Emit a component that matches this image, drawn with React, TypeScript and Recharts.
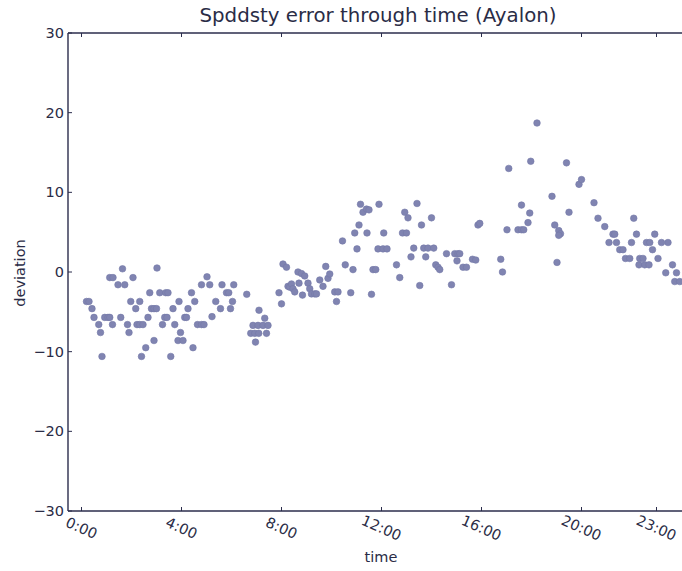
import React from "react";
import { ScatterChart, Scatter, XAxis, YAxis } from "recharts";

// hour of day for each sample
const hours = [
  0.2, 0.3, 0.42, 0.5, 0.69, 0.76, 0.82, 0.93, 1.06, 1.13, 1.13, 1.26, 1.24, 1.46, 1.57, 1.64, 1.73, 1.84, 1.9, 1.97,
  2.06, 2.17, 2.22, 2.33, 2.46, 2.33, 2.4, 2.57, 2.66, 2.73, 2.8, 2.9, 3.0, 2.9, 3.02, 3.13, 3.37, 3.24, 3.33, 3.42,
  3.46, 3.57, 3.66, 3.73, 3.9, 3.96, 3.86, 4.06, 4.13, 4.2, 4.26, 4.4, 4.46, 4.53, 4.64, 4.8, 4.9, 4.8, 5.02, 5.13,
  5.22, 5.37, 5.56, 5.62, 5.8, 5.89, 5.96, 6.04, 6.09, 6.61,
  6.77, 6.86, 6.93, 6.96, 7.06, 7.09, 7.1, 7.26, 7.33, 7.4, 7.46,
  7.9, 8.0, 8.06, 8.2, 8.26, 8.33, 8.4, 8.46, 8.53, 8.66, 8.7, 8.8, 8.84, 8.93, 9.06, 9.13, 9.2, 9.33, 9.4,
  9.53, 9.66, 9.77, 9.86, 9.93, 10.13, 10.26, 10.2, 10.44, 10.55, 10.77, 10.86, 10.93, 11.02, 11.1, 11.16, 11.26, 11.4, 11.5, 11.42,
  11.6, 11.66, 11.77, 11.9, 11.86, 12.06, 12.22, 12.09,
  12.6, 12.73, 12.84, 13.0, 12.93, 13.06, 13.18, 13.29, 13.42, 13.53, 13.6, 13.69, 13.86, 14.09, 13.77, 14.0, 14.17, 14.26, 14.33, 14.6,
  14.8, 14.93, 15.06, 15.13, 15.02, 15.26, 15.4, 15.64, 15.77, 15.86, 15.93,
  16.77, 16.84, 17.02, 17.09, 17.46, 17.6, 17.69, 17.6, 17.86, 17.93, 17.97, 18.22, 18.82, 18.93, 19.02, 19.09, 19.16, 19.09, 19.4, 19.5,
  19.9, 20.0,
  20.5, 20.66, 20.93, 21.1, 21.26, 21.33, 21.4, 21.53, 21.66, 21.76, 21.93, 22.0, 22.09, 22.2, 22.3, 22.33, 22.46, 22.53, 22.6, 22.7,
  22.73, 22.84, 22.93, 23.06, 23.2, 23.37, 23.46, 23.64, 23.73, 23.8, 23.93,
];

// speed/density deviation at each sample
const deviation = [
  -3.7, -3.7, -4.6, -5.7, -6.6, -7.6, -10.6, -5.7, -5.7, -5.7, -0.7, -0.7, -6.6, -1.6, -5.7, 0.4, -1.6, -6.6, -7.6, -3.7,
  -0.7, -4.6, -6.6, -6.6, -6.6, -3.7, -10.6, -9.5, -5.7, -2.6, -4.6, -4.6, -4.6, -8.6, 0.5, -2.6, -2.6, -6.6, -5.7, -5.7,
  -2.6, -10.6, -4.6, -6.6, -3.7, -7.6, -8.6, -8.6, -5.7, -5.7, -4.6, -2.6, -9.5, -3.7, -6.6, -6.6, -6.6, -1.6, -0.6, -1.6,
  -5.6, -3.7, -4.6, -1.6, -2.6, -2.6, -4.6, -3.7, -1.6, -2.8,
  -7.7, -6.7, -7.7, -8.8, -6.7, -7.7, -4.8, -6.7, -5.8, -7.7, -6.7,
  -2.6, -4.0, 1.0, 0.6, -1.8, -1.9, -1.5, -2.1, -2.5, 0.0, -1.4, -0.2, -2.9, -0.5, -1.4, -2.1, -2.75, -2.75, -2.75,
  -1.0, -1.8, 0.7, -0.8, -0.25, -2.5, -2.5, -3.7, 3.9, 0.9, -2.6, 0.3, 4.9, 2.9, 5.9, 8.5, 7.5, 7.9, 7.8, 4.9,
  -2.8, 0.3, 0.3, 8.5, 2.9, 2.9, 2.9, 4.9,
  0.9, -0.7, 4.9, 4.9, 7.5, 6.8, 1.9, 3.0, 8.6, -1.7, 5.9, 3.0, 3.0, 3.0, 1.9, 6.8, 0.9, 0.6, 0.3, 2.3,
  -1.6, 2.3, 2.3, 2.3, 1.4, 0.6, 0.6, 1.6, 1.5, 5.9, 6.1,
  1.6, 0.0, 5.3, 13.0, 5.3, 5.3, 5.3, 8.4, 6.2, 7.4, 13.9, 18.7, 9.5, 5.9, 1.2, 5.2, 4.8, 4.6, 13.7, 7.5,
  11.0, 11.6,
  8.7, 6.75, 5.7, 3.7, 4.75, 4.75, 3.7, 2.8, 2.8, 1.7, 1.7, 3.7, 6.75, 4.75, 0.9, 1.7, 1.7, 0.9, 3.7, 0.9,
  3.7, 2.8, 4.75, 1.7, 3.7, -0.1, 3.7, 0.9, -1.2, -0.1, -1.2,
];

const xTicks = [0, 4, 8, 12, 16, 20, 23];
const xTickLabels = ["0:00", "4:00", "8:00", "12:00", "16:00", "20:00", "23:00"];
const yTicks = [-30, -20, -10, 0, 10, 20, 30];

const points = hours.map((h, i) => ({ h, v: deviation[i] }));

const FONT = "'DejaVu Sans', sans-serif";
const INK = "#2a2c46";
const SPINE = "#2b2d4c";
const DOT = "#8084b1";

const BottomTick = (props: any) => {
  const { x, y, payload } = props;
  const label = xTickLabels[xTicks.indexOf(payload.value)];
  const ly = y + 17;
  return (
    <g>
      <line x1={x} y1={y} x2={x} y2={y - 4} stroke={SPINE} strokeWidth={1} />
      <text
        x={x}
        y={ly}
        textAnchor="middle"
        dominantBaseline="central"
        transform={`rotate(24 ${x} ${ly})`}
        fill={INK}
        fontSize={14.5}
        fontFamily={FONT}
      >
        {label}
      </text>
    </g>
  );
};

const TopTick = (props: any) => {
  const { x, y } = props;
  return <line x1={x} y1={y} x2={x} y2={y + 4} stroke={SPINE} strokeWidth={1} />;
};

const LeftTick = (props: any) => {
  const { x, y, payload } = props;
  const v = payload.value as number;
  const label = v < 0 ? `\u2212${Math.abs(v)}` : `${v}`;
  return (
    <g>
      <line x1={x} y1={y} x2={x + 4} y2={y} stroke={SPINE} strokeWidth={1} />
      <text
        x={x - 4}
        y={y}
        textAnchor="end"
        dominantBaseline="central"
        fill={INK}
        fontSize={14.5}
        fontFamily={FONT}
      >
        {label}
      </text>
    </g>
  );
};

const Dot = (props: any) => (
  <circle cx={props.cx} cy={props.cy} r={3.3} fill={DOT} stroke="#7479a8" strokeWidth={0.6} />
);

export default function App() {
  return (
    <div
      style={{
        position: "absolute",
        left: 0,
        top: 0,
        width: 682,
        height: 571,
        overflow: "hidden",
        background: "#fff",
        fontFamily: FONT,
        color: INK,
      }}
    >
      <div
        style={{
          position: "absolute",
          left: 68,
          top: 3,
          width: 620,
          textAlign: "center",
          fontSize: 19.8,
          lineHeight: "26px",
          whiteSpace: "nowrap",
        }}
      >
        Spddsty error through time (Ayalon)
      </div>
      <div
        style={{
          position: "absolute",
          left: 20,
          top: 273,
          fontSize: 14.5,
          transform: "translate(-50%, -50%) rotate(-90deg)",
          whiteSpace: "nowrap",
        }}
      >
        deviation
      </div>
      <div
        style={{
          position: "absolute",
          left: 381,
          top: 557,
          fontSize: 14.5,
          transform: "translate(-50%, -50%)",
        }}
      >
        time
      </div>
      <ScatterChart
        width={720}
        height={571}
        margin={{ top: 3, right: 26, bottom: 0, left: 0 }}
      >
        <XAxis
          xAxisId="top"
          orientation="top"
          type="number"
          dataKey="h"
          domain={[-0.54, 24.5]}
          ticks={xTicks}
          height={30}
          tick={<TopTick />}
          tickLine={false}
          tickSize={0}
          tickMargin={0}
          axisLine={{ stroke: SPINE, strokeWidth: 1.4 }}
          allowDataOverflow
        />
        <XAxis
          type="number"
          dataKey="h"
          domain={[-0.54, 24.5]}
          ticks={xTicks}
          height={60}
          tick={<BottomTick />}
          tickLine={false}
          tickSize={0}
          tickMargin={0}
          axisLine={{ stroke: SPINE, strokeWidth: 1.4 }}
          allowDataOverflow
        />
        <YAxis
          type="number"
          dataKey="v"
          domain={[-30, 30]}
          ticks={yTicks}
          width={68}
          tick={<LeftTick />}
          tickLine={false}
          tickSize={0}
          tickMargin={0}
          axisLine={{ stroke: SPINE, strokeWidth: 1.4 }}
          allowDataOverflow
        />
        <Scatter data={points} shape={<Dot />} isAnimationActive={false} />
      </ScatterChart>
    </div>
  );
}
